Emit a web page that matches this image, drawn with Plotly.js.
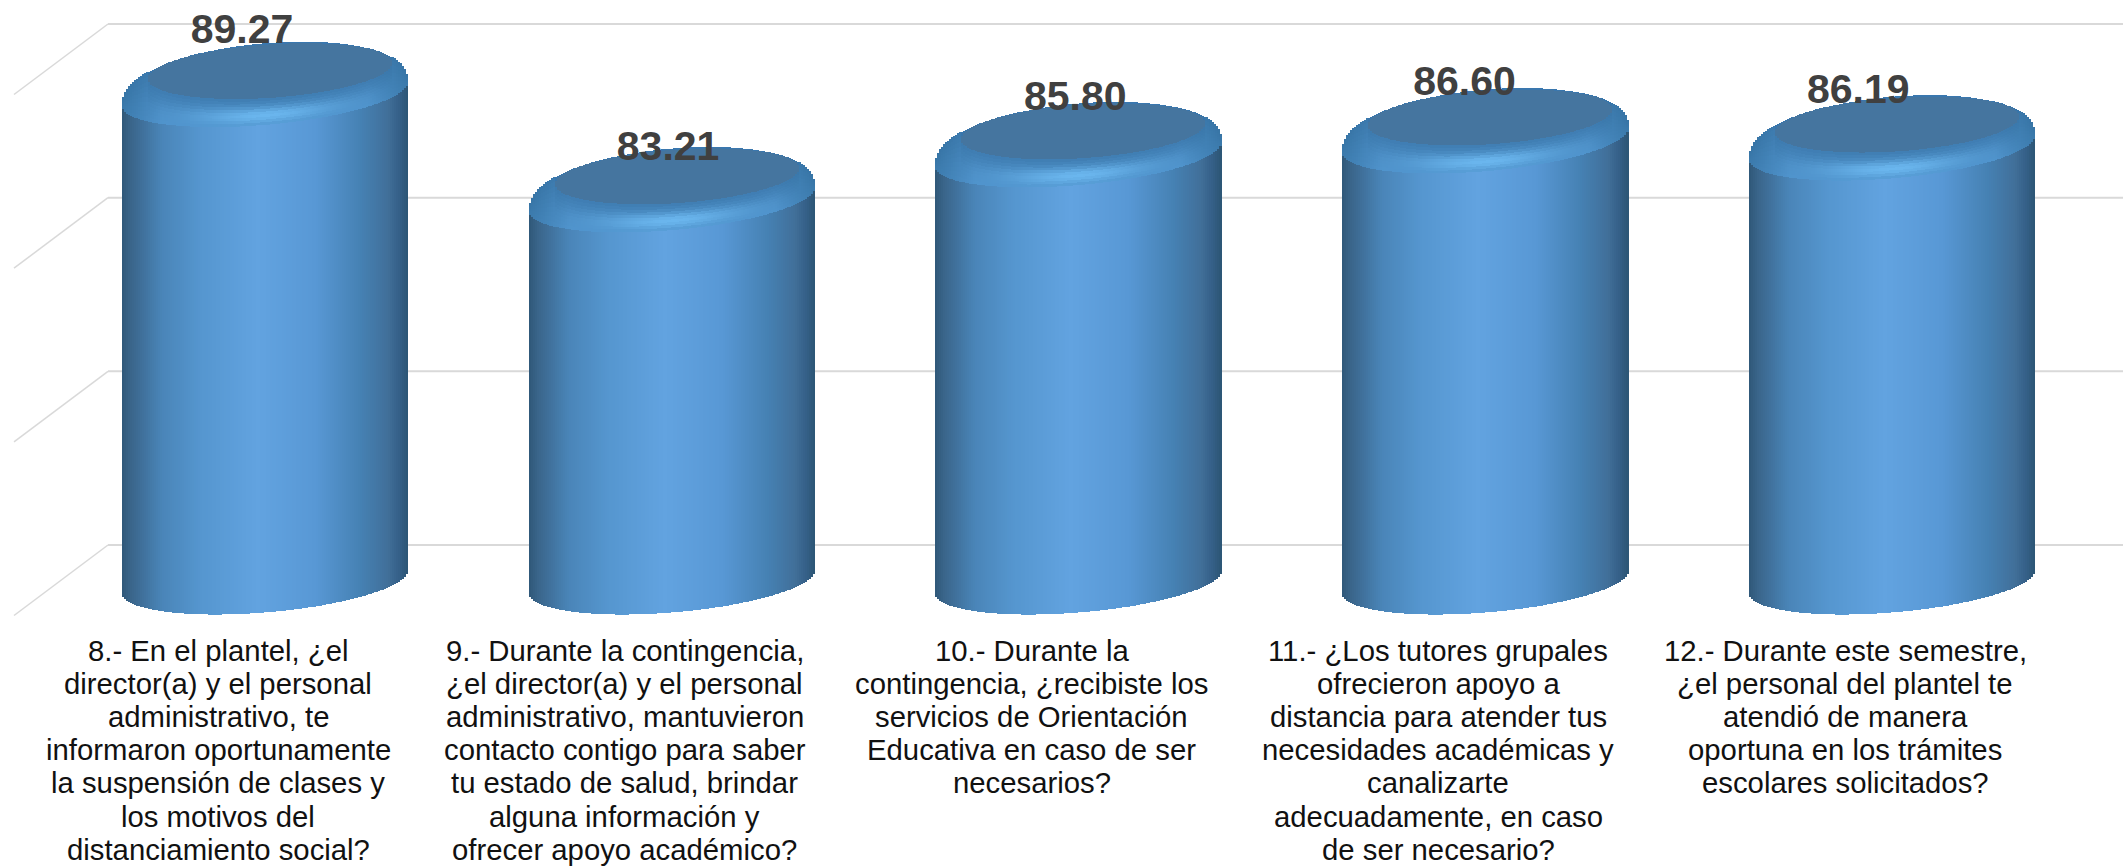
<!DOCTYPE html>
<html><head><meta charset="utf-8">
<script src="https://cdn.plot.ly/plotly-3.0.1.min.js"></script>
<style>html,body{margin:0;padding:0;background:#fff}#c{width:2123px;height:867px}</style>
</head><body><div id="c"></div>
<script>
const questions = [
 ["8.- En el plantel, ¿el","director(a) y el personal","administrativo, te","informaron oportunamente","la suspensión de clases y","los motivos del","distanciamiento social?"],
 ["9.- Durante la contingencia,","¿el director(a) y el personal","administrativo, mantuvieron","contacto contigo para saber","tu estado de salud, brindar","alguna información y","ofrecer apoyo académico?"],
 ["10.- Durante la","contingencia, ¿recibiste los","servicios de Orientación","Educativa en caso de ser","necesarios?"],
 ["11.- ¿Los tutores grupales","ofrecieron apoyo a","distancia para atender tus","necesidades académicas y","canalizarte","adecuadamente, en caso","de ser necesario?"],
 ["12.- Durante este semestre,","¿el personal del plantel te","atendió de manera","oportuna en los trámites","escolares solicitados?"]
];
const values = [89.27, 83.21, 85.80, 86.60, 86.19];
const valueLabels = ["89.27","83.21","85.80","86.60","86.19"];
const gridValues = [60, 70, 80, 90];
const labelShiftX = [-0.0565, -0.009, -0.008, -0.051, -0.083];
const labelShiftY = [0.20, -0.43, -0.14, -0.09, -0.14];

// axis calibration
const W = 2123, H = 867, plotBottom = 625;
const pxPerCat = 406.75, pxPerUnit = 17.37;
const xRange = [-265 / pxPerCat, (W - 265) / pxPerCat];
const yRange = [60 - (plotBottom - 545) / pxPerUnit, 90 + 24 / pxPerUnit];
const dy = p => p / pxPerUnit, dx = p => p / pxPerCat;

// cylinder geometry (px-derived, converted to axis units)
const halfW = 143, stripPx = 2, stripDraw = 2.5, baseCentre = 57.9, topDrop = 3.35;
const skewTop = -12, skewBase = -11.5;

const hex = h => [1,3,5].map(i => parseInt(h.substr(i,2),16));
const mix = (a,b,t) => a.map((v,i) => v + (b[i]-v)*Math.max(0,Math.min(1,t)));
const css = c => `rgb(${c.map(Math.round).join(',')})`;
const bodyStops = [[-1,'#2f5878'],[-0.93,'#3b668c'],[-0.72,'#4a85b8'],[-0.45,'#5596cf'],[-0.05,'#62a3e0'],[0.35,'#5898d5'],[0.68,'#4580b2'],[0.86,'#416f99'],[0.93,'#36618a'],[1,'#2c5675']].map(s=>[s[0],hex(s[1])]);
function bodyColor(u){
  for(let i=1;i<bodyStops.length;i++){
    if(u<=bodyStops[i][0]){const a=bodyStops[i-1],b=bodyStops[i];return mix(a[1],b[1],(u-a[0])/(b[0]-a[0]));}
  }
  return bodyStops[bodyStops.length-1][1];
}
const capColor = hex('#45759f'), rimBack = hex('#3a77ae'), rimLow = hex('#4f93cc'), rimHigh = hex('#3f7db2'), glow = hex('#6cb8f0'), sideDark = hex('#33709f');
function bevelColor(u,t){
  let c = mix(rimLow, rimHigh, t);
  const g = Math.exp(-Math.pow(u/0.5,2)) * Math.exp(-Math.pow((t-0.36)/0.3,2));
  c = mix(c, glow, g*0.95);
  const e = (Math.abs(u)-0.72)/0.28;
  return mix(c, sideDark, Math.max(0,e)*0.7);
}

// Painted top-down so that each lower segment overlaps the one above it.
const sx=[], sy=[], sb=[], sc=[];
function seg(x,a,b,col,top){ if(b>a){const over = top?0:dy(1);sx.push(x);sb.push(a);sy.push(b-a+over);sc.push(col);} }
const n = Math.round(2*halfW/stripPx), levels = 10;
values.forEach((v,i)=>{
  const cTop = v - topDrop;
  for(let k=0;k<n;k++){
    const pxOff = -halfW + (k+0.5)*stripPx, u = pxOff/halfW, r = Math.sqrt(1-u*u);
    const x = i + dx(pxOff);
    const baseY = baseCentre - dy(skewBase*u + 31*r);
    const lip = cTop - dy(skewTop*u + 31*r);
    const outer = cTop - dy(skewTop*u - 51.6*Math.pow(r,0.85));
    const ci = (pxOff-5)/122;
    let capLow = outer, capHigh = outer;
    if(Math.abs(ci)<1){
      const ri = Math.sqrt(1-ci*ci);
      const cc = cTop + dy(23);
      capLow = Math.max(lip, cc - dy(-8*ci + 27*ri));
      capHigh = Math.min(outer, cc - dy(-8*ci - 26.5*ri));
      if(capHigh < capLow) capHigh = capLow;
    }
    seg(x,capHigh,outer,css(mix(rimBack,sideDark,Math.max(0,(Math.abs(u)-0.7)/0.3)*0.6)),true);
    seg(x,capLow,capHigh,css(capColor));
    for(let l=levels-1;l>=0;l--){
      const a = lip + (capLow-lip)*l/levels, b = lip + (capLow-lip)*(l+1)/levels;
      seg(x,a,b,css(bevelColor(u,(l+0.5)/levels)));
    }
    seg(x, baseY, lip, css(bodyColor(u)));
  }
});

const gridColor = '#d9d9d9';
const shapes = [];
gridValues.forEach(g=>{
  const back = dx(108-265), front = dx(14-265), drop = g - dy(70.5);
  shapes.push({type:'line',layer:'below',xref:'x',yref:'y',x0:front,y0:drop,x1:back,y1:g,line:{color:gridColor,width:1.5}});
  shapes.push({type:'line',layer:'below',xref:'x',yref:'y',x0:back,y0:g,x1:xRange[1],y1:g,line:{color:gridColor,width:2}});
});

// category labels: one text per line for the tight line spacing
const labelFont = {family:'"Liberation Sans",Arial,sans-serif',size:29.3,color:'#111'};
const catShift = -47/pxPerCat, firstLine = 650, lineStep = 33.2;
const annotations = [];
questions.forEach((lines,i)=>lines.forEach((t,k)=>{
  annotations.push({xref:'x',yref:'paper',x:i+catShift,y:0,yanchor:'middle',xanchor:'center',showarrow:false,align:'center',
    yshift:-(firstLine-plotBottom+k*lineStep),text:t,font:labelFont,borderpad:0,captureevents:false});
}));

const traces = [
 {type:'bar',x:sx,y:sy,base:sb,width:dx(stripDraw),opacity:1,marker:{color:sc,opacity:1,line:{width:0}},hoverinfo:'skip',showlegend:false},
 {type:'scatter',mode:'text',x:values.map((_,i)=>i+labelShiftX[i]),y:values.map((v,i)=>v+labelShiftY[i]),text:valueLabels,textposition:'middle center',
  textfont:{family:'"Liberation Sans",Arial,sans-serif',size:41,color:'#404040',weight:700},hoverinfo:'skip',showlegend:false,cliponaxis:false}
];
const layout = {
 width:W,height:H,margin:{l:0,r:0,t:0,b:H-plotBottom,pad:0},
 paper_bgcolor:'#fff',plot_bgcolor:'rgba(0,0,0,0)',barmode:'overlay',bargap:0,bargroupgap:0,showlegend:false,shapes,annotations,
 xaxis:{type:'linear',range:xRange,showticklabels:false,showgrid:false,zeroline:false,showline:false,ticks:'',fixedrange:true},
 yaxis:{type:'linear',range:yRange,showgrid:false,zeroline:false,showline:false,showticklabels:false,ticks:'',fixedrange:true}
};
Plotly.newPlot('c',traces,layout,{displayModeBar:false});
</script></body></html>
